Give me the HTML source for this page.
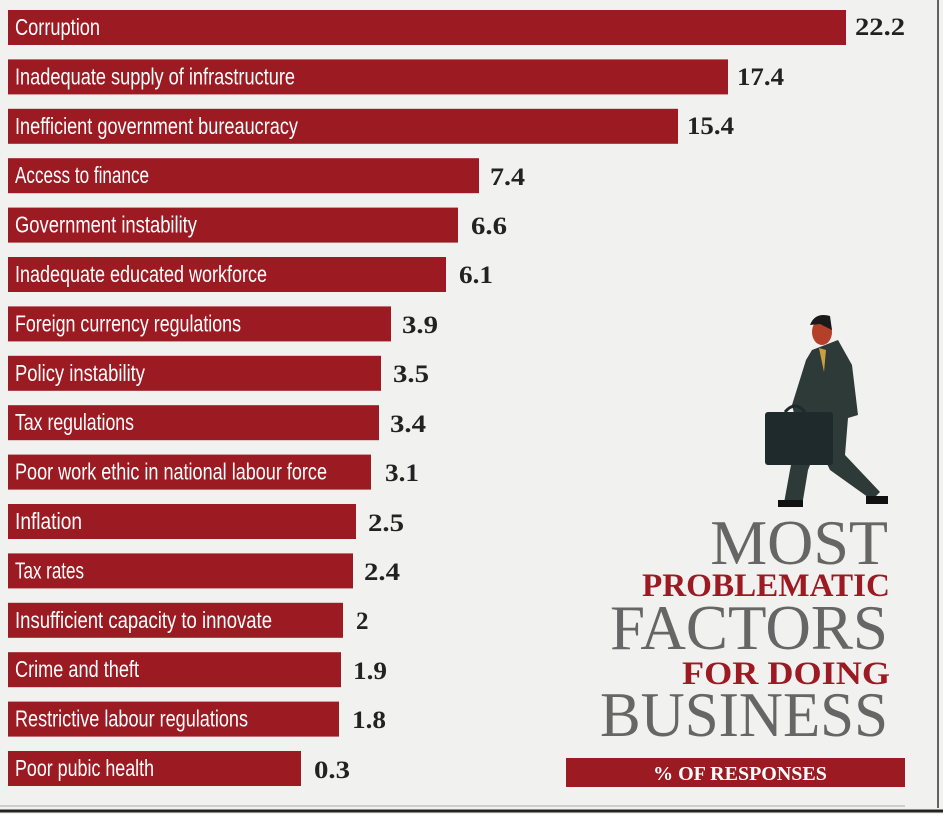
<!DOCTYPE html>
<html><head><meta charset="utf-8"><style>
html,body{margin:0;padding:0;background:#f1f1f0;}
svg{display:block}
</style></head><body>
<svg width="943" height="814" viewBox="0 0 943 814" xmlns="http://www.w3.org/2000/svg">
<rect width="943" height="814" fill="#f1f1f0"/>
<line x1="938" y1="0" x2="938" y2="808" stroke="#333" stroke-width="1.5"/>
<line x1="0" y1="806" x2="905" y2="806" stroke="#aaa" stroke-width="1"/>
<line x1="0" y1="811" x2="943" y2="811" stroke="#222" stroke-width="3"/>
<g fill="#9c1a22">
<rect x="8" y="10" width="838" height="35"/>
<rect x="8" y="59.4" width="720" height="35"/>
<rect x="8" y="108.8" width="670" height="35"/>
<rect x="8" y="158.2" width="471" height="35"/>
<rect x="8" y="207.6" width="450" height="35"/>
<rect x="8" y="257" width="438" height="35"/>
<rect x="8" y="306.4" width="383" height="35"/>
<rect x="8" y="355.8" width="373" height="35"/>
<rect x="8" y="405.2" width="371" height="35"/>
<rect x="8" y="454.6" width="363" height="35"/>
<rect x="8" y="504" width="348" height="35"/>
<rect x="8" y="553.4" width="345" height="35"/>
<rect x="8" y="602.8" width="335" height="35"/>
<rect x="8" y="652.2" width="333" height="35"/>
<rect x="8" y="701.6" width="331" height="35"/>
<rect x="8" y="751" width="293" height="35"/>
</g>
<g fill="#fff" font-family="'Liberation Sans Narrow','Liberation Sans',sans-serif" font-size="23">
<text x="15" y="35" textLength="85" lengthAdjust="spacingAndGlyphs">Corruption</text>
<text x="15" y="84.4" textLength="280" lengthAdjust="spacingAndGlyphs">Inadequate supply of infrastructure</text>
<text x="15" y="133.8" textLength="283" lengthAdjust="spacingAndGlyphs">Inefficient government bureaucracy</text>
<text x="15" y="183.2" textLength="134" lengthAdjust="spacingAndGlyphs">Access to finance</text>
<text x="15" y="232.6" textLength="182" lengthAdjust="spacingAndGlyphs">Government instability</text>
<text x="15" y="282" textLength="252" lengthAdjust="spacingAndGlyphs">Inadequate educated workforce</text>
<text x="15" y="331.4" textLength="226" lengthAdjust="spacingAndGlyphs">Foreign currency regulations</text>
<text x="15" y="380.8" textLength="130" lengthAdjust="spacingAndGlyphs">Policy instability</text>
<text x="15" y="430.2" textLength="119" lengthAdjust="spacingAndGlyphs">Tax regulations</text>
<text x="15" y="479.6" textLength="312" lengthAdjust="spacingAndGlyphs">Poor work ethic in national labour force</text>
<text x="15" y="529" textLength="67" lengthAdjust="spacingAndGlyphs">Inflation</text>
<text x="15" y="578.4" textLength="69" lengthAdjust="spacingAndGlyphs">Tax rates</text>
<text x="15" y="627.8" textLength="257" lengthAdjust="spacingAndGlyphs">Insufficient capacity  to innovate</text>
<text x="15" y="677.2" textLength="124" lengthAdjust="spacingAndGlyphs">Crime and theft</text>
<text x="15" y="726.6" textLength="233" lengthAdjust="spacingAndGlyphs">Restrictive labour regulations</text>
<text x="15" y="776" textLength="139" lengthAdjust="spacingAndGlyphs">Poor pubic health</text>
</g>
<g fill="#222" font-family="'Liberation Serif',serif" font-size="25" font-weight="bold">
<text x="855" y="35" textLength="50" lengthAdjust="spacingAndGlyphs">22.2</text>
<text x="737" y="85" textLength="47" lengthAdjust="spacingAndGlyphs">17.4</text>
<text x="687" y="134" textLength="47" lengthAdjust="spacingAndGlyphs">15.4</text>
<text x="490" y="185" textLength="35" lengthAdjust="spacingAndGlyphs">7.4</text>
<text x="471" y="234" textLength="36" lengthAdjust="spacingAndGlyphs">6.6</text>
<text x="459" y="283" textLength="34" lengthAdjust="spacingAndGlyphs">6.1</text>
<text x="402" y="333" textLength="36" lengthAdjust="spacingAndGlyphs">3.9</text>
<text x="393" y="382" textLength="36" lengthAdjust="spacingAndGlyphs">3.5</text>
<text x="390" y="432" textLength="36" lengthAdjust="spacingAndGlyphs">3.4</text>
<text x="385" y="481" textLength="34" lengthAdjust="spacingAndGlyphs">3.1</text>
<text x="368" y="531" textLength="36" lengthAdjust="spacingAndGlyphs">2.5</text>
<text x="364" y="580" textLength="36" lengthAdjust="spacingAndGlyphs">2.4</text>
<text x="356" y="629">2</text>
<text x="353" y="679" textLength="34" lengthAdjust="spacingAndGlyphs">1.9</text>
<text x="352" y="728" textLength="34" lengthAdjust="spacingAndGlyphs">1.8</text>
<text x="314" y="778" textLength="36" lengthAdjust="spacingAndGlyphs">0.3</text>
</g>
<!-- businessman -->
<g>
<path d="M812 350 L838 340 L852 365 L858 415 L848 418 L845 455 L880 492 L872 500 L830 470 L818 445 L808 470 L803 500 L784 503 L790 470 L798 430 L792 405 L806 360 Z" fill="#2d3a38"/>
<rect x="765" y="412" width="68" height="53" rx="3" fill="#1e2a2c"/>
<path d="M785 412 Q795 400 805 412" stroke="#1e2a2c" stroke-width="3" fill="none"/>
<ellipse cx="822" cy="332" rx="10" ry="13" fill="#b5402a"/>
<path d="M810 325 Q815 312 830 316 L832 330 L820 324 Z" fill="#1a1a1a"/>
<path d="M819 348 L824 372 L826 350 Z" fill="#c8a040"/>
<path d="M778 500 L803 500 L803 507 L778 507 Z" fill="#111"/>
<path d="M866 496 L888 496 L888 504 L866 504 Z" fill="#111"/>
</g>
<g font-family="'Liberation Serif',serif" text-anchor="end">
<text x="888" y="564" font-size="64" fill="#666">MOST</text>
<text x="890" y="596" font-size="33" font-weight="bold" fill="#9c1a22" textLength="248" lengthAdjust="spacingAndGlyphs">PROBLEMATIC</text>
<text x="888" y="649" font-size="64" fill="#666" textLength="278" lengthAdjust="spacingAndGlyphs">FACTORS</text>
<text x="890" y="684" font-size="33" font-weight="bold" fill="#9c1a22" textLength="208" lengthAdjust="spacingAndGlyphs">FOR DOING</text>
<text x="888" y="736" font-size="64" fill="#666" textLength="288" lengthAdjust="spacingAndGlyphs">BUSINESS</text>
</g>
<rect x="566" y="758" width="339" height="29" fill="#9c1a22"/>
<text x="740" y="780" font-family="'Liberation Serif',serif" font-size="20" font-weight="bold" fill="#fff" text-anchor="middle">% OF RESPONSES</text>
</svg>
</body></html>
